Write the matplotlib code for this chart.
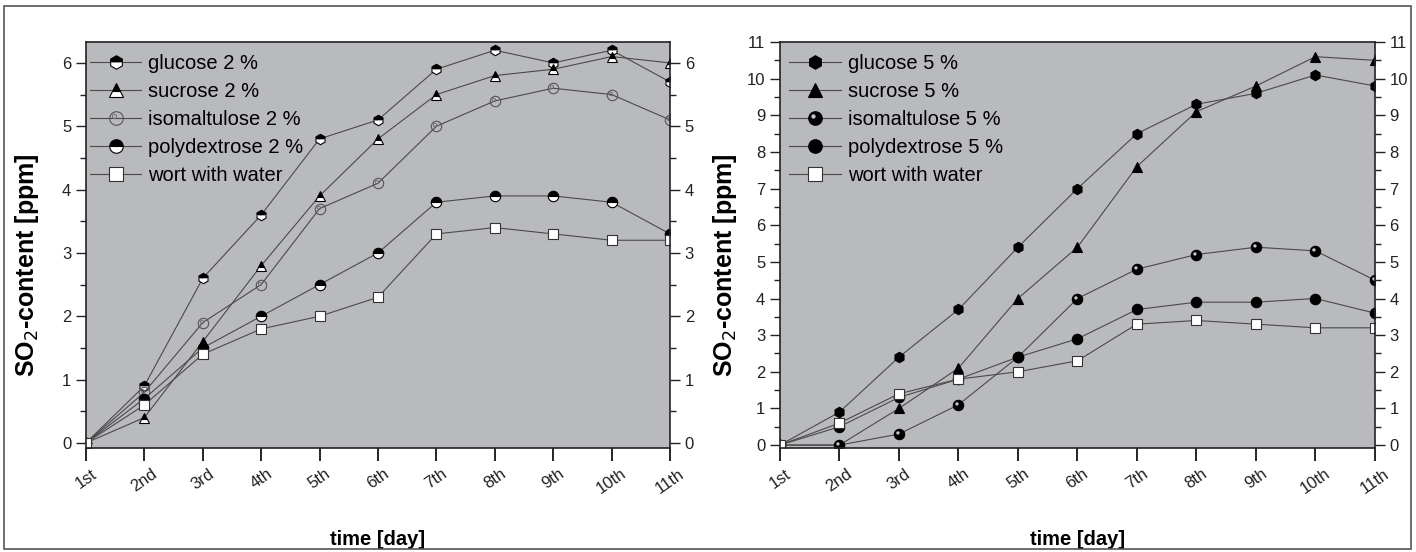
import matplotlib
matplotlib.use("Agg")
import matplotlib.pyplot as plt
from matplotlib.path import Path
from matplotlib.patches import Rectangle
from matplotlib.legend_handler import HandlerTuple
from matplotlib.ticker import MultipleLocator

plt.rcParams['font.family'] = ['Liberation Sans', 'DejaVu Sans']

days = ["1st", "2nd", "3rd", "4th", "5th", "6th", "7th", "8th", "9th", "10th", "11th"]

# 2 % series
glucose_2 = [0, 0.9, 2.6, 3.6, 4.8, 5.1, 5.9, 6.2, 6.0, 6.2, 5.7]
sucrose_2 = [0, 0.4, 1.6, 2.8, 3.9, 4.8, 5.5, 5.8, 5.9, 6.1, 6.0]
isomalt_2 = [0, 0.8, 1.9, 2.5, 3.7, 4.1, 5.0, 5.4, 5.6, 5.5, 5.1]
polydex_2 = [0, 0.7, 1.5, 2.0, 2.5, 3.0, 3.8, 3.9, 3.9, 3.8, 3.3]
wort_2 = [0, 0.6, 1.4, 1.8, 2.0, 2.3, 3.3, 3.4, 3.3, 3.2, 3.2]

# 5 % series
glucose_5 = [0, 0.9, 2.4, 3.7, 5.4, 7.0, 8.5, 9.3, 9.6, 10.1, 9.8]
sucrose_5 = [0, 0, 1.0, 2.1, 4.0, 5.4, 7.6, 9.1, 9.8, 10.6, 10.5]
isomalt_5 = [0, 0, 0.3, 1.1, 2.4, 4.0, 4.8, 5.2, 5.4, 5.3, 4.5]
polydex_5 = [0, 0.5, 1.3, 1.8, 2.4, 2.9, 3.7, 3.9, 3.9, 4.0, 3.6]
wort_5 = [0, 0.6, 1.4, 1.8, 2.0, 2.3, 3.3, 3.4, 3.3, 3.2, 3.2]

BG = '#b9babe'
LC = '#4a4a4a'
x = list(range(len(days)))

# small off-centre circle used as highlight on the "ball" markers
_c = Path.circle((-0.3, 0.3), 0.32)
highlight = Path.make_compound_path(Path([(-1, -1)], [Path.MOVETO]),
                                    Path([(1, 1)], [Path.MOVETO]), _c)

fig = plt.figure(figsize=(14.16, 5.52), dpi=100)
fig.patches.append(Rectangle((4 / 1416, 3 / 552), 1407 / 1416, 543 / 552,
                             transform=fig.transFigure, fill=False,
                             edgecolor='#555555', lw=1.2))

ax1 = fig.add_axes([0.0607, 0.1884, 0.4125, 0.7355])
ax2 = fig.add_axes([0.5508, 0.1884, 0.4202, 0.7355])

ms = 7.5
kw = dict(color=LC, lw=0.8, markersize=ms, markeredgewidth=0.8)

# ---- left panel (2 %)
h = []
h.append(ax1.plot(x, glucose_2, marker='h', fillstyle='top', mfc='black', mfcalt='white',
                  mec='black', **kw)[0])
h.append(ax1.plot(x, sucrose_2, marker='^', fillstyle='top', mfc='black', mfcalt='white',
                  mec='black', **kw)[0])
iso_a = ax1.plot(x, isomalt_2, marker='o', mfc='none', mec='#555555', **kw)[0]
iso_b = ax1.plot(x, isomalt_2, marker=highlight, ls='none', mfc='none', mec='#666666',
                 markersize=ms, markeredgewidth=0.6)[0]
h.append((iso_a, iso_b))
h.append(ax1.plot(x, polydex_2, marker='o', fillstyle='top', mfc='black', mfcalt='white',
                  mec='black', **kw)[0])
h.append(ax1.plot(x, wort_2, marker='s', mfc='white', mec='#333333', **kw)[0])
labels1 = ['glucose 2 %', 'sucrose 2 %', 'isomaltulose 2 %', 'polydextrose 2 %', 'wort with water']

# ---- right panel (5 %)
g = []
g.append(ax2.plot(x, glucose_5, marker='h', mfc='black', mec='black', **kw)[0])
g.append(ax2.plot(x, sucrose_5, marker='^', mfc='black', mec='black', **kw)[0])
b_a = ax2.plot(x, isomalt_5, marker='o', mfc='black', mec='black', **kw)[0]
b_b = ax2.plot(x, isomalt_5, marker=highlight, ls='none', mfc='#c8c8c8', mec='none',
               markersize=ms)[0]
g.append((b_a, b_b))
g.append(ax2.plot(x, polydex_5, marker='o', mfc='black', mec='black', **kw)[0])
g.append(ax2.plot(x, wort_5, marker='s', mfc='white', mec='#333333', **kw)[0])
labels2 = ['glucose 5 %', 'sucrose 5 %', 'isomaltulose 5 %', 'polydextrose 5 %', 'wort with water']

for ax, top, handles, labels, lx, ylx in [(ax1, 6.33, h, labels1, -0.007, -0.077),
                                          (ax2, 11.0, g, labels2, 0.002, -0.069)]:
    ax.set_facecolor(BG)
    ax.set_xlim(0, 10)
    ax.set_ylim(-0.08, top)
    ax.set_xticks(x)
    ax.set_xticklabels(days, rotation=35, ha='center', fontsize=12, color='#222222')
    ax.yaxis.set_major_locator(MultipleLocator(1))
    ax.yaxis.set_minor_locator(MultipleLocator(0.5))
    ax.tick_params(axis='y', which='both', direction='out', left=True, right=True,
                   labelleft=True, labelright=True, labelsize=12, colors='#222222')
    ax.tick_params(axis='y', which='major', length=7, width=1)
    ax.tick_params(axis='y', which='minor', length=4, width=1)
    ax.tick_params(axis='x', direction='out', length=9, width=1.2, pad=4)
    for s in ax.spines.values():
        s.set_linewidth(1.2)
        s.set_color('#222222')
    ax.set_xlabel('time [day]', fontsize=14.5, fontweight='bold', labelpad=24)
    ax.set_ylabel('SO$_2$-content [ppm]', fontsize=18, fontweight='bold')
    ax.yaxis.set_label_coords(ylx, 0.45)
    ax.legend(handles, labels, loc='upper left', bbox_to_anchor=(lx, 0.99),
              frameon=False, fontsize=14.5, handlelength=2.55, handletextpad=0.35,
              labelspacing=0.44, borderaxespad=0, borderpad=0.4, markerscale=1.3,
              handler_map={tuple: HandlerTuple(ndivide=1)})

fig.savefig('out.png', dpi=100)
